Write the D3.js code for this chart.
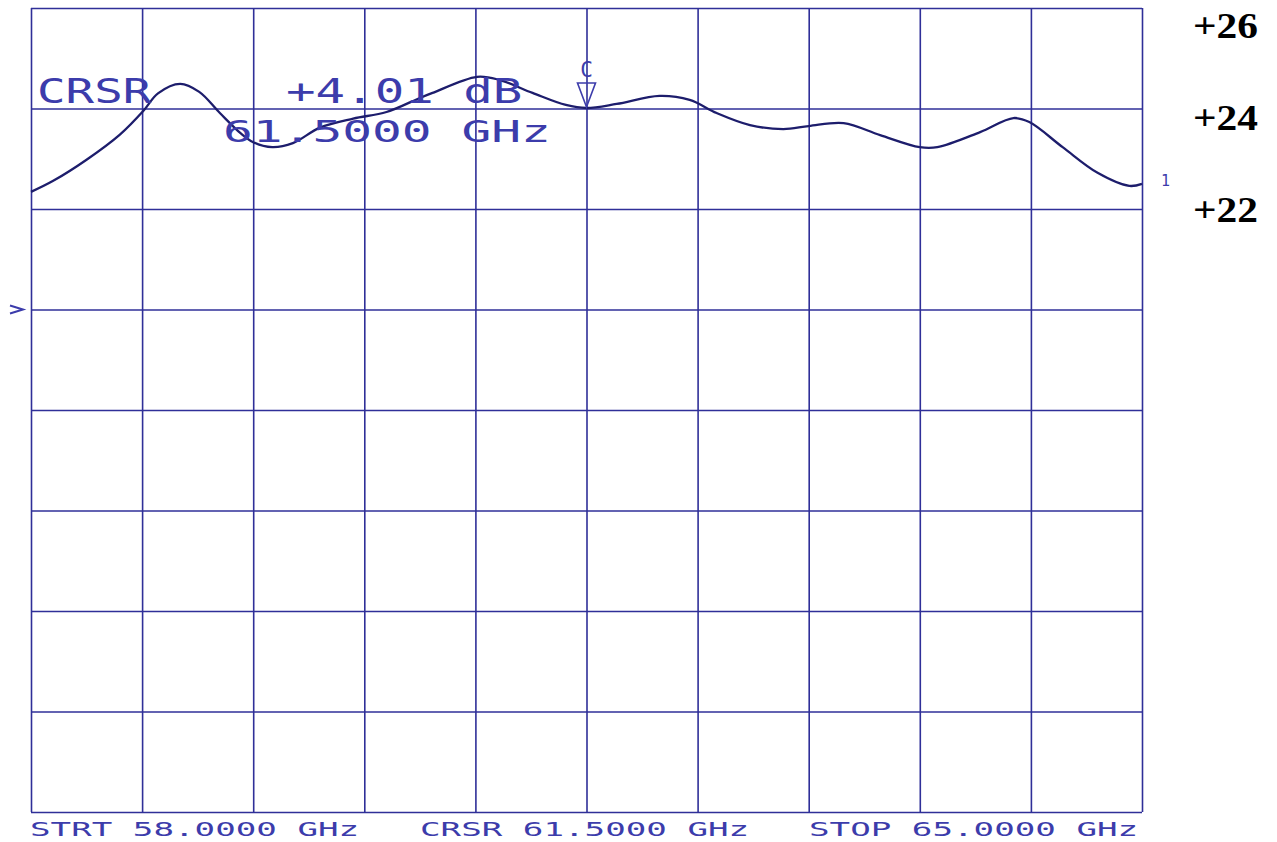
<!DOCTYPE html>
<html>
<head>
<meta charset="utf-8">
<script src="https://cdn.jsdelivr.net/npm/d3@7"></script>
<style>
  html, body { margin: 0; padding: 0; background: #ffffff; }
  svg { display: block; }
</style>
</head>
<body>
<svg id="chart" width="1277" height="842"></svg>
<script>
// ---- Data ----
const freqGHz = [58.00, 58.14, 58.35, 58.56, 58.71, 58.80, 58.94, 59.06, 59.19, 59.32,
                 59.40, 59.52, 59.65, 59.82, 60.03, 60.24, 60.45, 60.53, 60.81, 60.95,
                 61.16, 61.37, 61.50, 61.69, 61.96, 62.15, 62.32, 62.53, 62.74, 62.90,
                 63.12, 63.35, 63.60, 63.71, 63.98, 64.19, 64.29, 64.50, 64.72, 64.92, 65.00];
const gainDb  = [22.34, 22.56, 22.98, 23.48, 23.96, 24.30, 24.49, 24.33, 23.91, 23.51,
                 23.33, 23.23, 23.31, 23.62, 23.80, 23.93, 24.21, 24.31, 24.63, 24.57,
                 24.31, 24.07, 24.01, 24.09, 24.25, 24.17, 23.91, 23.67, 23.59, 23.65,
                 23.71, 23.47, 23.23, 23.23, 23.53, 23.81, 23.73, 23.23, 22.72, 22.46, 22.50];
const startGHz = 58.0, stopGHz = 65.0, cursorGHz = 61.5;
const xDivisions = 10;
const yLevels = [10, 12, 14, 16, 18, 20, 22, 24, 26];
const rightLabels = ["+26", "+24", "+22"];
const rightLabelValues = [26, 24, 22];
const cursorReadout = ["CRSR", "+4.01 dB", "61.5000 GHz"];
const footer = ["STRT 58.0000 GHz", "CRSR 61.5000 GHz", "STOP 65.0000 GHz"];

// ---- Layout ----
const L = 31, R = 1142, T = 8, B = 812;
const gridColor = "#2f2f98";
const traceColor = "#1d1d6c";
const textColor = "#3c3cab";
const mono = "'DejaVu Sans Mono', 'Liberation Mono', monospace";

const svg = d3.select("#chart");
const x = d3.scaleLinear().domain([startGHz, stopGHz]).range([L, R]);
const y = d3.scaleLinear().domain([d3.min(yLevels), d3.max(yLevels)]).range([B, T]);

// ---- Grid ----
const xTicks = d3.range(xDivisions + 1).map(i => startGHz + i * (stopGHz - startGHz) / xDivisions);
const gx = svg.append("g").attr("transform", `translate(0,${B})`)
  .call(d3.axisBottom(x).tickValues(xTicks).tickSize(-(B - T)).tickFormat(""));
const gy = svg.append("g").attr("transform", `translate(${L},0)`)
  .call(d3.axisLeft(y).tickValues(yLevels).tickSize(-(R - L)).tickFormat(""));
[gx, gy].forEach(g => {
  g.select(".domain").remove();
  g.selectAll(".tick line").attr("stroke", gridColor).attr("stroke-width", 1.6);
});

// reference-level marker ">" at left
const refLevel = 20;
svg.append("path")
  .attr("d", `M${L - 21},${y(refLevel) - 4} L${L - 8},${y(refLevel)} L${L - 21},${y(refLevel) + 4}`)
  .attr("fill", "none").attr("stroke", textColor).attr("stroke-width", 2);

// ---- Trace ----
const pts = freqGHz.map((f, i) => [f, gainDb[i]]);
const line = d3.line().x(d => x(d[0])).y(d => y(d[1])).curve(d3.curveCatmullRom.alpha(0.5));
svg.append("path").datum(pts).attr("d", line)
  .attr("fill", "none").attr("stroke", traceColor).attr("stroke-width", 2.3);

// trace end marker "1"
svg.append("text").text("1")
  .attr("x", R + 19).attr("y", y(gainDb[gainDb.length - 1]) + 2)
  .attr("font-family", mono).attr("font-size", 15).attr("fill", textColor);

// ---- Cursor marker ----
const ci = freqGHz.indexOf(cursorGHz);
const cx = x(cursorGHz), cy = y(gainDb[ci]);
svg.append("path")
  .attr("d", `M${cx - 9},${cy - 25} L${cx + 9},${cy - 25} L${cx},${cy - 1} Z`)
  .attr("fill", "none").attr("stroke", textColor).attr("stroke-width", 1.6);
svg.append("text").text("C")
  .attr("x", cx).attr("y", cy - 31).attr("text-anchor", "middle")
  .attr("font-family", mono).attr("font-size", 21).attr("fill", textColor);

// ---- Cursor readout text ----
const pitchBig = 30.5;
function plotText(str, px, py, size, pitch) {
  svg.append("text").text(str)
    .attr("x", px).attr("y", py)
    .attr("font-family", mono).attr("font-size", size)
    .attr("fill", textColor)
    .attr("textLength", str.length * pitch - pitch * 0.25)
    .attr("lengthAdjust", "spacingAndGlyphs");
}
plotText(cursorReadout[0], 37, 103, 33, pitchBig);
plotText(cursorReadout[1], 286, 103, 33, pitchBig);
plotText(cursorReadout[2], 223, 142, 31, pitchBig);

// ---- Footer ----
const footerX = [30, 420, 809];
footer.forEach((s, i) => plotText(s, footerX[i], 836, 19.5, 20.9));

// ---- Right-hand labels ----
const labelY = d3.scaleLinear().domain([22, 26]).range([222, 38]);
rightLabels.forEach((s, i) => {
  svg.append("text").text(s)
    .attr("x", 1193).attr("y", labelY(rightLabelValues[i]))
    .attr("font-family", "'Liberation Serif', 'Times New Roman', serif")
    .attr("font-weight", "bold").attr("font-size", 35)
    .attr("fill", "#000")
    .attr("textLength", 65).attr("lengthAdjust", "spacingAndGlyphs");
});
</script>
</body>
</html>
